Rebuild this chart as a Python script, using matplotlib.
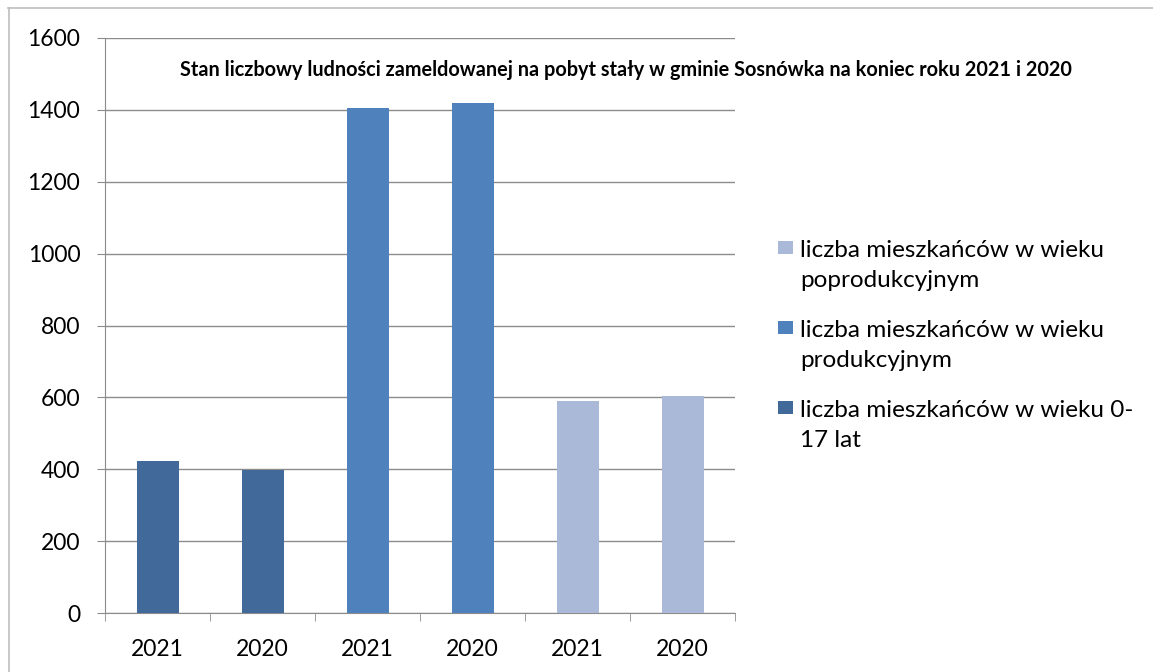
import matplotlib
matplotlib.use("Agg")
import matplotlib.pyplot as plt
from matplotlib.patches import Rectangle
from matplotlib.lines import Line2D

categories = ["2021", "2020", "2021", "2020", "2021", "2020"]
values = [422, 398, 1405, 1418, 589, 603]
groups = ["liczba mieszkańców w wieku 0-\n17 lat",
          "liczba mieszkańców w wieku\nprodukcyjnym",
          "liczba mieszkańców w wieku\npoprodukcyjnym"]
group_of_bar = [0, 0, 1, 1, 2, 2]
colors = ["#416A9B", "#4F81BD", "#AAB9D7"]
yticks = [0, 200, 400, 600, 800, 1000, 1200, 1400, 1600]
title = "Stan liczbowy ludności zameldowanej na pobyt stały w gminie Sosnówka na koniec roku 2021 i 2020"

plt.rcParams['font.family'] = ['Lato', 'DejaVu Sans']

W, H = 1153, 672
fig = plt.figure(figsize=(W / 100, H / 100), dpi=100)
border = "#BDBDBD"
fig.add_artist(Line2D([8 / W, 1], [1 - 7.5 / H, 1 - 7.5 / H], transform=fig.transFigure,
                      color=border, linewidth=1.2))
fig.add_artist(Line2D([8.5 / W, 8.5 / W], [0, 1 - 7.5 / H], transform=fig.transFigure,
                      color=border, linewidth=1.2))

ax = fig.add_axes([105 / W, 1 - 613 / H, (735 - 105) / W, (613 - 38) / H])
x = list(range(len(values)))
ax.bar(x, values, width=0.4, color=[colors[g] for g in group_of_bar], zorder=3)
ax.set_xlim(-0.5, len(values) - 0.5)
ax.set_ylim(0, 1600)
ax.set_yticks(yticks)
ax.set_yticklabels([str(v) for v in yticks], fontsize=16.5)
ax.yaxis.grid(True, color="#8C8C8C", linewidth=1, zorder=0)
ax.set_xticks(x)
ax.set_xticklabels(categories, fontsize=16.5)
ax.tick_params(axis='x', length=0, pad=18.5)
ax.tick_params(axis='y', length=5.8, color="#8C8C8C", pad=12)
ax.set_xticks([i - 0.5 for i in range(len(values) + 1)], minor=True)
ax.tick_params(axis='x', which='minor', length=5.8, color="#8C8C8C")
for s in ["top", "right"]:
    ax.spines[s].set_visible(False)
ax.spines["left"].set_color("#8C8C8C")
ax.spines["bottom"].set_color("#8C8C8C")
ax.set_axisbelow(True)

fig.text(626 / W, 1 - 70 / H, title, ha="center", va="center",
         fontsize=14.3, fontweight="bold")

# legend (swatch + text, swatch aligned with the first text line)
order = [2, 1, 0]
swatch_top = [241, 321, 401]
last_baseline = [287, 367, 447]
for gi, st, lb in zip(order, swatch_top, last_baseline):
    fig.patches.append(Rectangle((778 / W, 1 - (st + 13) / H), 15 / W, 13 / H,
                                 transform=fig.transFigure, facecolor=colors[gi],
                                 edgecolor="none"))
    fig.text(800 / W, 1 - lb / H, groups[gi], ha="left", va="baseline",
             fontsize=17.5, linespacing=1.55, transform=fig.transFigure)

fig.savefig("out.png", dpi=100)
